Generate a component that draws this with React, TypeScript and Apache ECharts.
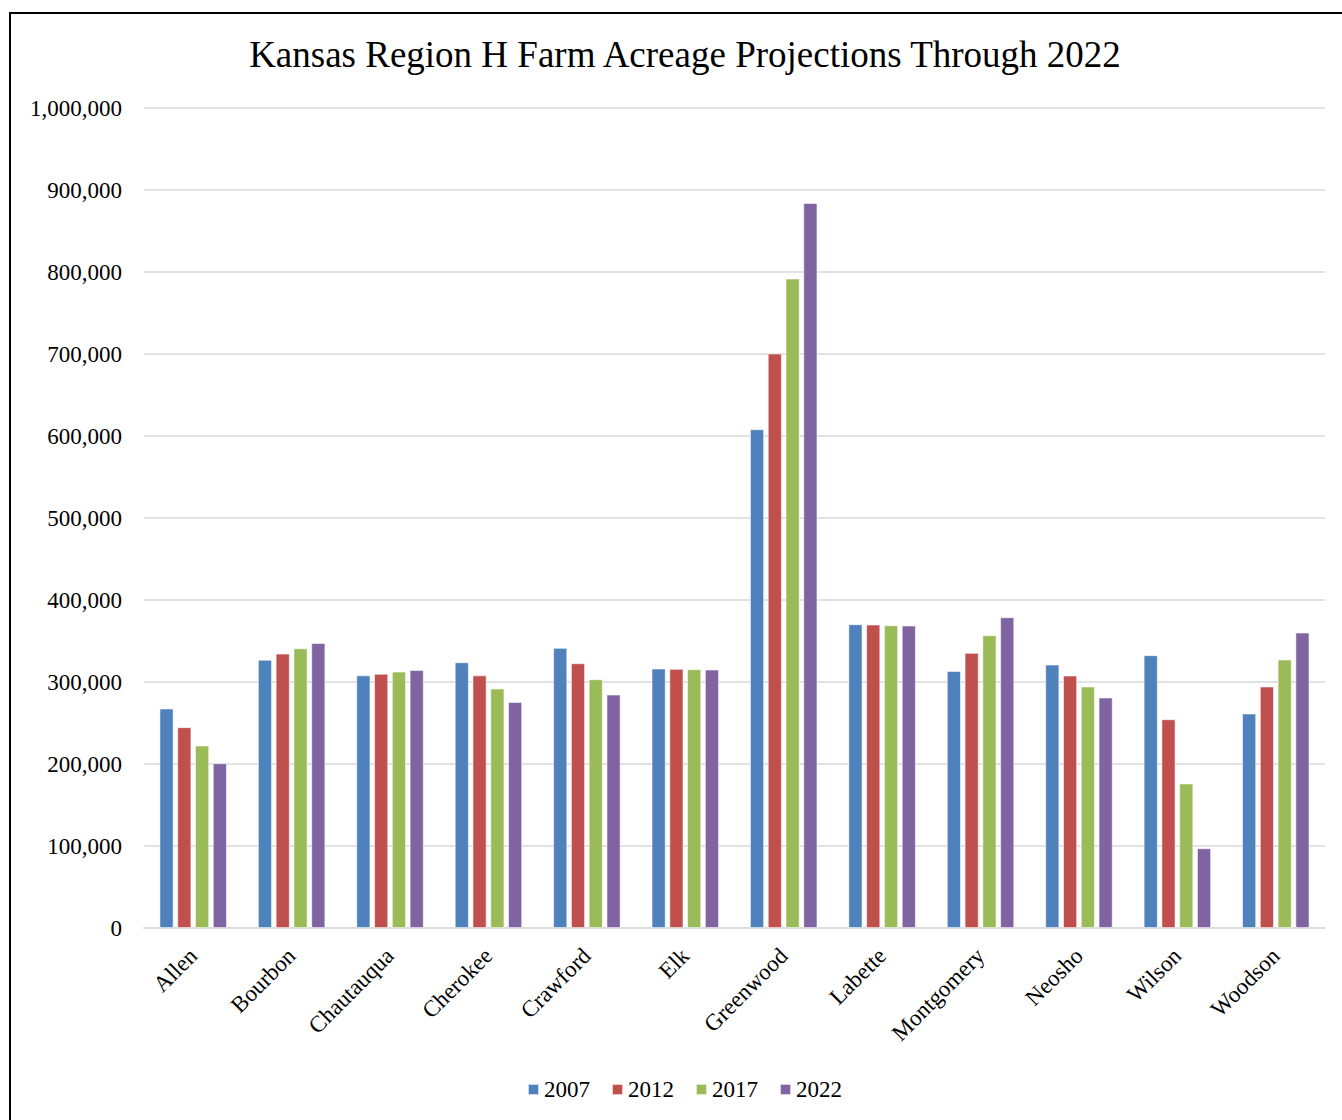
import React, { useEffect, useRef } from "react";
import * as echarts from "echarts";

// Counties of Kansas Region H
const counties = [
  "Allen",
  "Bourbon",
  "Chautauqua",
  "Cherokee",
  "Crawford",
  "Elk",
  "Greenwood",
  "Labette",
  "Montgomery",
  "Neosho",
  "Wilson",
  "Woodson",
];

const years = ["2007", "2012", "2017", "2022"];

// Farm acreage by county, one array per year
const acres2007 = [267600, 327000, 308000, 324000, 341500, 316300, 608200, 370400, 313400, 321200, 332600, 261500];
const acres2012 = [244800, 334500, 310000, 308000, 322800, 315900, 700500, 370000, 335400, 307800, 254500, 294400];
const acres2017 = [222400, 341000, 312600, 292000, 303300, 315500, 792000, 369100, 357000, 294400, 176100, 327300];
const acres2022 = [200800, 347500, 314600, 275600, 284600, 315100, 884000, 368800, 378900, 281000, 97200, 360200];

const yearValues = [acres2007, acres2012, acres2017, acres2022];
const yearColors = ["#4f81bd", "#c0504d", "#9bbb59", "#8064a2"];

const FONT = "'Liberation Serif', 'Times New Roman', serif";

const withCommas = (v: number) => String(v).replace(/\B(?=(\d{3})+(?!\d))/g, ",");

export default function App() {
  const ref = useRef<HTMLDivElement>(null);

  useEffect(() => {
    if (!ref.current) return;
    const chart = echarts.init(ref.current, undefined, { renderer: "svg" });
    chart.setOption({
      animation: false,
      backgroundColor: "#ffffff",
      title: {
        text: "Kansas Region H Farm Acreage Projections Through 2022",
        left: 680,
        textAlign: "center",
        top: 31,
        textStyle: {
          fontFamily: FONT,
          fontSize: 37,
          fontWeight: "normal",
          color: "#000000",
        },
      },
      graphic: [
        {
          type: "rect",
          shape: { x: 10, y: 13, width: 1400, height: 1200 },
          style: { fill: "none", stroke: "#000000", lineWidth: 2 },
          silent: true,
        },
      ],
      legend: {
        data: years,
        left: 522,
        top: 1073,
        icon: "rect",
        itemWidth: 11,
        itemHeight: 11,
        itemGap: 21,
        textStyle: { fontFamily: FONT, fontSize: 23, color: "#000000" },
      },
      grid: { left: 144, right: 17, top: 108, bottom: 192, containLabel: false },
      xAxis: {
        type: "category",
        data: counties,
        axisLine: { show: true, lineStyle: { color: "#d9d9d9", width: 1.5 } },
        axisTick: { show: false },
        axisLabel: {
          interval: 0,
          rotate: 45,
          margin: 24,
          fontFamily: FONT,
          fontSize: 23,
          color: "#000000",
        },
      },
      yAxis: {
        type: "value",
        min: 0,
        max: 1000000,
        interval: 100000,
        axisLine: { show: false },
        axisTick: { show: false },
        splitLine: { show: true, lineStyle: { color: "#d9d9d9", width: 1.5 } },
        axisLabel: {
          margin: 22,
          fontFamily: FONT,
          fontSize: 23,
          color: "#000000",
          formatter: (v: number) => withCommas(v),
        },
      },
      series: years.map((y, i) => ({
        name: y,
        type: "bar",
        data: yearValues[i],
        barWidth: 14,
        barGap: "27%",
        itemStyle: {
          color: yearColors[i],
          borderColor: "rgba(255,255,255,0.7)",
          borderWidth: 0.8,
        },
      })),
    });
    return () => chart.dispose();
  }, []);

  return (
    <div
      ref={ref}
      style={{ position: "fixed", left: 0, top: 0, width: 1342, height: 1120, background: "#fff" }}
    />
  );
}
